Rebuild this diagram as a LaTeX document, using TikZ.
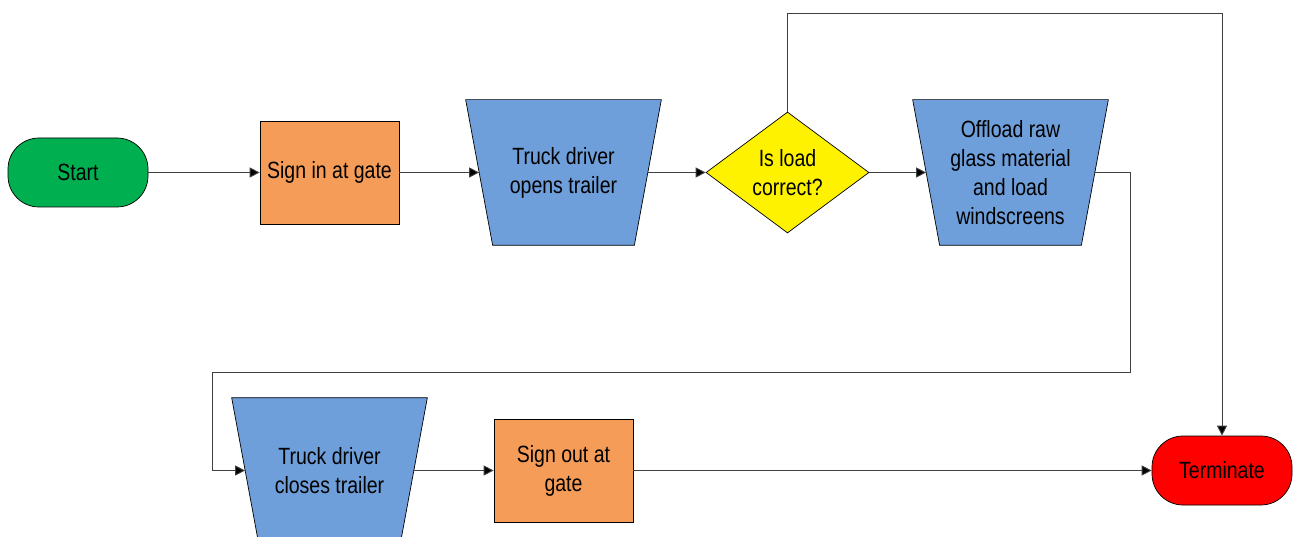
\documentclass[tikz,border=0pt]{standalone}
\usepackage{fontspec}
\setmainfont{Liberation Sans}[FakeStretch=0.83]
\usetikzlibrary{shapes.geometric,arrows.meta,backgrounds}
\definecolor{cgreen}{HTML}{00B050}
\definecolor{corange}{HTML}{F59D58}
\definecolor{cblue}{HTML}{6E9FDA}
\definecolor{cline}{HTML}{404040}
\tikzset{
  base/.style={draw=black,line width=0.7pt,inner sep=0pt,align=center,
    font=\fontsize{23.5}{29}\selectfont},
  term/.style={base,rectangle,rounded corners=31pt,minimum width=140pt,minimum height=69pt},
  proc/.style={base,rectangle,fill=corange,minimum width=139pt,minimum height=103pt},
  manual/.style={base,draw=none,rectangle,minimum width=168pt,minimum height=145pt},
  manualshape/.style={draw=black,line width=0.7pt,fill=cblue},
  decis/.style={base,diamond,fill=yellow,minimum width=163pt,minimum height=121pt},
  conn/.style={draw=cline,line width=0.9pt,-{Triangle[length=10pt,width=10pt,fill=black]}},
}
\newcommand{\manualdraw}[1]{%
  \draw[manualshape] ([xshift=-13.5pt]#1.north west) -- ([xshift=13.5pt]#1.north east)
    -- ([xshift=-13.5pt]#1.south east) -- ([xshift=13.5pt]#1.south west) -- cycle;}
\begin{document}
\begin{tikzpicture}[x=1pt,y=-1pt]
\useasboundingbox (0,0) rectangle (1299,537);
\node[term,fill=cgreen] (start) at (78,172.5) {Start};
\node[proc] (signin) at (329.5,172.5) {Sign in at gate};
\node[manual] (open) at (563.5,172.5) {Truck driver\\opens trailer};
\node[decis] (dia) at (787.5,172.5) {Is load\\correct?};
\node[manual] (off) at (1010.5,172.5) {Offload raw\\glass material\\and load\\windscreens};
\node[manual] (close) at (329.5,470.5) {Truck driver\\closes trailer};
\node[proc] (signout) at (563.5,470.5) {Sign out at\\gate};
\node[term,fill=red] (end) at (1222,470.5) {Terminate};
\begin{scope}[on background layer]
\manualdraw{open}
\manualdraw{off}
\manualdraw{close}
\end{scope}
\coordinate (c1) at (1222,13);
\coordinate (c2) at (1130,372);
\coordinate (c3) at (212,372);
\draw[conn] (start) -- (signin);
\draw[conn] (signin) -- (open);
\draw[conn] (open) -- (dia);
\draw[conn] (dia) -- (off);
\draw[conn] (dia.north) |- (c1) -- (end.north);
\draw[conn] (off.east) -| (c2) -- (c3) |- (close.west);
\draw[conn] (close) -- (signout);
\draw[conn] (signout) -- (end);
\end{tikzpicture}
\end{document}
